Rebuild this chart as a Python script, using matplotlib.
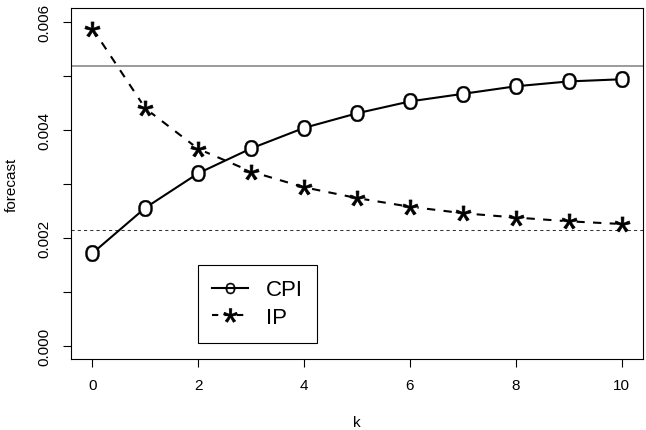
import matplotlib
matplotlib.use("Agg")
import matplotlib.pyplot as plt
from matplotlib.lines import Line2D
from matplotlib.textpath import TextPath
from matplotlib.font_manager import FontProperties
from matplotlib.path import Path

plt.rcParams['font.family'] = ['Liberation Sans', 'DejaVu Sans']

# forecast horizons
k = [0, 1, 2, 3, 4, 5, 6, 7, 8, 9, 10]

# forecasts by horizon
cpi = [0.00172, 0.00256, 0.00320, 0.00366, 0.00404, 0.00431,
       0.00453, 0.00467, 0.00481, 0.00490, 0.00494]
ip = [0.00588, 0.00440, 0.00365, 0.00323, 0.00294, 0.00274,
      0.00258, 0.00246, 0.00238, 0.00231, 0.00226]

# long-run levels
cpi_level = 0.00519
ip_level = 0.00215


def glyph_marker(ch, xscale=1.0):
    """Letter outline as a centred marker path, optionally narrowed."""
    tp = TextPath((0, 0), ch, size=10, prop=FontProperties(family='Liberation Sans'))
    verts = tp.vertices.copy()
    codes = tp.codes
    real = codes != Path.CLOSEPOLY
    lo, hi = verts[real].min(axis=0), verts[real].max(axis=0)
    verts = verts - (lo + hi) / 2
    verts[~real] = 0
    verts[:, 0] *= xscale
    return Path(verts, codes)


O_MARK = glyph_marker('O', 0.88)
STAR = glyph_marker('*')

fig = plt.figure(figsize=(6.46, 4.31), dpi=100)
ax = fig.add_axes([0.1104, 0.1647, 0.8845, 0.8137])

ax.axhline(cpi_level, color='#808080', lw=1.1, zorder=1)
ax.axhline(ip_level, color='#333333', lw=0.75, dashes=(3, 3), zorder=1)

# lines, then white patches under the symbols so lines stop at the glyph
ax.plot(k, cpi, color='black', lw=1.5, zorder=2)
ax.plot(k, ip, color='black', lw=1.5, dashes=(4, 4), zorder=2)
ax.plot(k, cpi, ls='none', marker='o', ms=9, mfc='white', mec='none', zorder=3)
ax.plot(k, ip, ls='none', marker='o', ms=10, mfc='white', mec='none', zorder=3)
ax.plot(k, cpi, ls='none', marker=O_MARK, ms=12, mew=0.3, color='black', zorder=4)
ax.plot(k, ip, ls='none', marker=STAR, ms=11, mew=0.5, color='black', zorder=4)

ax.set_xlim(-0.4, 10.4)
ax.set_ylim(-0.00024, 0.006254)
ax.set_xticks([0, 2, 4, 6, 8, 10])
ax.set_yticks([0.000, 0.001, 0.002, 0.003, 0.004, 0.005, 0.006])
ax.set_yticklabels(['0.000', '', '0.002', '', '0.004', '', '0.006'])
ax.tick_params(direction='out', length=6, width=0.8, labelsize=11, pad=8)
ax.tick_params(axis='y', labelrotation=90)
for lab in ax.get_yticklabels():
    lab.set_va('center')

for sp in ax.spines.values():
    sp.set_linewidth(0.8)

ax.set_xlabel('k', fontsize=11, labelpad=16)
ax.set_ylabel('forecast', fontsize=11, labelpad=14)

handles = [
    Line2D([], [], color='black', lw=1.5, marker=O_MARK, ms=8, mew=0.3),
    Line2D([], [], color='black', lw=1.5, dashes=(3, 3), marker=STAR, ms=10, mew=0.5),
]
leg = ax.legend(handles, ['CPI', 'IP'], loc='upper left',
                bbox_to_anchor=(0.2217, 0.268), borderaxespad=0,
                fontsize=16, handlelength=1.6, handletextpad=0.8,
                labelspacing=0.3, borderpad=0.65,
                fancybox=False, framealpha=1, edgecolor='black')
leg.get_frame().set_linewidth(0.8)

fig.savefig('out.png', dpi=100)
